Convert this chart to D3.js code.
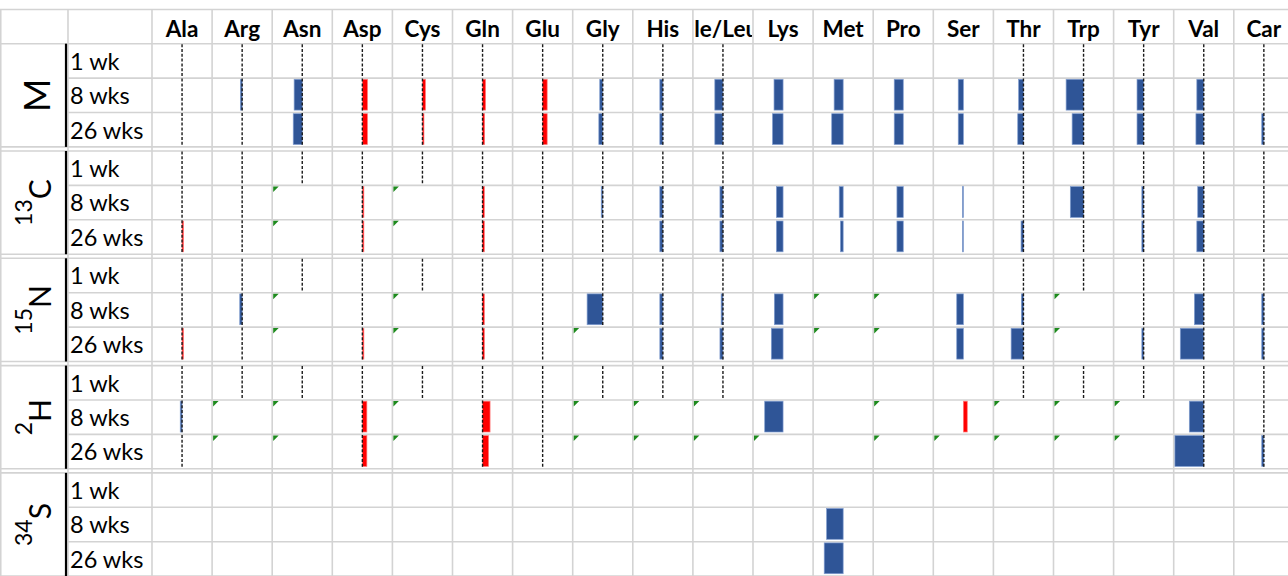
<!DOCTYPE html>
<html>
<head>
<meta charset="utf-8">
<script src="https://cdn.jsdelivr.net/npm/d3@7"></script>
<style>
  html, body { margin: 0; padding: 0; background: #ffffff; }
  svg { display: block; }
</style>
</head>
<body>
<svg id="chart" width="1288" height="576"></svg>
<script>
// Column headers (amino acids)
const aminoAcids = ["Ala", "Arg", "Asn", "Asp", "Cys", "Gln", "Glu", "Gly", "His", "Ile/Leu",
                    "Lys", "Met", "Pro", "Ser", "Thr", "Trp", "Tyr", "Val", "Car"];
// Row labels inside each block
const timePoints = ["1 wk", "8 wks", "26 wks"];
// Block labels: isotope letter and mass number
const isotopeLetters = ["M", "C", "N", "H", "S"];
const isotopeMasses = ["", "13", "15", "2", "34"];
// Columns whose data bars show the dashed midpoint axis
const axisColumns = ["Ala", "Arg", "Asn", "Asp", "Cys", "Gln", "Glu", "Gly", "His", "Ile/Leu",
                     "Thr", "Trp", "Tyr", "Val", "Car"];

// Relative change per cell (positive = blue bar, negative = red bar),
// "nd" = text entry (not determined), null = empty cell.
const ND = "nd";
const valuesM = [
  [0, 0, 0, 0, 0, 0, 0, 0, 0, 0, 0, 0, 0, 0, 0, 0, 0, 0, 0],
  [0, 0.06, 0.27, -0.17, -0.10, -0.10, -0.15, 0.10, 0.10, 0.27, 0.30, 0.30, 0.30, 0.17, 0.16, 0.58, 0.22, 0.23, 0],
  [0, 0, 0.30, -0.17, -0.05, -0.07, -0.15, 0.13, 0.10, 0.27, 0.35, 0.38, 0.30, 0.17, 0.19, 0.38, 0.22, 0.26, 0.07]
];
const values13C = [
  [0, 0, 0, 0, 0, 0, 0, 0, 0, 0, 0, 0, 0, 0, 0, 0, 0, 0, 0],
  [0, 0, ND, -0.05, ND, -0.06, 0, 0.05, 0.10, 0.10, 0.22, 0.13, 0.21, 0.03, 0, 0.44, 0.06, 0.20, 0],
  [-0.05, 0, ND, -0.05, ND, -0.06, 0, 0, 0.10, 0.10, 0.22, 0.09, 0.21, 0.03, 0.08, 0, 0.06, 0.23, 0]
];
const values15N = [
  [0, 0, 0, 0, 0, 0, 0, 0, 0, 0, 0, 0, 0, 0, 0, 0, 0, 0, 0],
  [0, 0.08, ND, 0, ND, -0.06, 0, 0.52, 0.10, 0.06, 0.29, ND, ND, 0.22, 0.07, ND, 0, 0.31, 0.07],
  [-0.05, 0, ND, -0.05, ND, -0.06, 0, ND, 0.10, 0.10, 0.39, ND, ND, 0.22, 0.41, ND, 0.06, 0.78, 0.07]
];
const values2H = [
  [0, 0, 0, 0, 0, 0, 0, 0, 0, 0, 0, 0, 0, 0, 0, 0, 0, 0, 0],
  [0.06, ND, ND, -0.15, ND, -0.25, 0, ND, ND, ND, 0.61, 0, ND, -0.13, ND, ND, ND, 0.48, 0],
  [0, ND, ND, -0.15, ND, -0.20, 0, ND, ND, ND, ND, 0, ND, ND, ND, ND, ND, 0.96, 0.07]
];
const values34S = [
  [null, null, null, null, null, null, null, null, null, null, null, null, null, null, null, null, null, null, null],
  [null, null, null, null, null, null, null, null, null, null, null, 0.55, null, null, null, null, null, null, null],
  [null, null, null, null, null, null, null, null, null, null, null, 0.63, null, null, null, null, null, null, null]
];
const blockValues = [valuesM, values13C, values15N, values2H, values34S];

// ---- layout ----
const W = 1288, H = 576;
const tableTop = 9.5, headerBottom = 43.7;
const labelColRight = 68, timeColRight = 152;
const colWidth = 60.1, blockGap = 4.1, blockStep = 107.3;
const gridColor = "#d3d3d3";
const blue = "#2f5597", red = "#ff0000", green = "#1d8a1d";
const font = "Lato, 'Open Sans', sans-serif";

const svg = d3.select("#chart");

const x = d3.scaleBand()
  .domain(aminoAcids)
  .range([timeColRight, timeColRight + colWidth * aminoAcids.length]);

const blockY = d3.scaleBand()
  .domain(d3.range(isotopeLetters.length))
  .range([headerBottom, headerBottom + blockStep * isotopeLetters.length - blockGap])
  .paddingInner(blockGap / blockStep)
  .paddingOuter(0);

const rowY = d3.scaleBand()
  .domain(timePoints)
  .range([0, blockY.bandwidth()]);

// bar length scale: value -> offset from the cell midpoint (positive values extend left)
const half = colWidth / 2;
const barX = d3.scaleLinear().domain([-1, 1]).range([half, -half]);

// ---- grid ----
const grid = svg.append("g").attr("stroke", gridColor).attr("stroke-width", 1.6).attr("fill", "none");

// horizontal: top border and header bottom
[tableTop, headerBottom].forEach(y => {
  grid.append("line").attr("x1", 0).attr("x2", W).attr("y1", y).attr("y2", y);
});
// block lines
blockY.domain().forEach(b => {
  const top = blockY(b), bottom = top + blockY.bandwidth();
  if (b > 0) grid.append("line").attr("x1", 0).attr("x2", W).attr("y1", top).attr("y2", top);
  grid.append("line").attr("x1", 0).attr("x2", W).attr("y1", bottom).attr("y2", bottom);
  timePoints.slice(1).forEach(t => {
    const y = top + rowY(t);
    grid.append("line").attr("x1", labelColRight).attr("x2", W).attr("y1", y).attr("y2", y);
  });
});
// vertical lines
const vx = [0.75, labelColRight].concat(aminoAcids.map(a => x(a))).concat([x.range()[1]]);
vx.forEach(v => {
  grid.append("line").attr("x1", v).attr("x2", v).attr("y1", tableTop).attr("y2", H);
});

// ---- header ----
const header = svg.append("g");
aminoAcids.forEach((a, i) => {
  const cid = "hclip" + i;
  svg.append("clipPath").attr("id", cid)
    .append("rect")
    .attr("x", x(a) + 1).attr("y", tableTop).attr("width", x.bandwidth() - 2).attr("height", headerBottom - tableTop);
  header.append("text")
    .attr("clip-path", `url(#${cid})`)
    .attr("x", x(a) + x.bandwidth() / 2)
    .attr("y", 36.5)
    .attr("text-anchor", "middle")
    .attr("font-family", font)
    .attr("font-weight", "bold")
    .attr("font-size", 22.5)
    .attr("fill", "#000")
    .text(a);
});

// ---- blocks ----
blockY.domain().forEach(b => {
  const top = blockY(b), bottom = top + blockY.bandwidth();
  const g = svg.append("g");

  // black separator between block label and time labels
  g.append("line")
    .attr("x1", 66).attr("x2", 66).attr("y1", top).attr("y2", bottom)
    .attr("stroke", "#000").attr("stroke-width", 2.2);

  // block label, rotated
  const cy = top + blockY.bandwidth() / 2;
  const lbl = g.append("text")
    .attr("transform", `translate(${b === 0 ? 50 : 50.5},${cy}) rotate(-90)`)
    .attr("text-anchor", "middle")
    .attr("font-family", font)
    .attr("fill", "#000");
  if (isotopeMasses[b]) {
    lbl.append("tspan").attr("font-size", 23).attr("dy", -18.5).text(isotopeMasses[b]);
    lbl.append("tspan").attr("font-size", 30).attr("dy", 18.5).text(isotopeLetters[b]);
  } else {
    lbl.append("tspan").attr("font-size", 36).text(isotopeLetters[b]);
  }

  // time labels
  timePoints.forEach(t => {
    g.append("text")
      .attr("x", 70)
      .attr("y", top + rowY(t) + 26)
      .attr("font-family", font)
      .attr("font-size", 23.5)
      .attr("fill", "#000")
      .text(t);
  });

  // cells
  blockValues[b].forEach((row, r) => {
    const rt = top + rowY(timePoints[r]);
    const rh = rowY.bandwidth();
    row.forEach((v, c) => {
      const a = aminoAcids[c];
      const left = x(a), mid = left + x.bandwidth() / 2;
      if (v === null) return;
      if (v === ND) {
        g.append("path")
          .attr("d", d3.line()([[left + 1, rt + 1], [left + 6.5, rt + 1], [left + 1, rt + 6.5]]) + "Z")
          .attr("fill", green);
        return;
      }
      if (v !== 0) {
        const x0 = mid + barX(0), x1 = mid + barX(v);
        g.append("rect")
          .attr("x", Math.min(x0, x1))
          .attr("y", rt + 1.2)
          .attr("width", Math.abs(x1 - x0))
          .attr("height", rh - 3.6)
          .attr("fill", v > 0 ? blue : red)
          .attr("stroke", v > 0 ? "#7f9ccf" : "#ff7a7a")
          .attr("stroke-width", 0.7);
      }
      if (axisColumns.includes(a)) {
        g.append("line")
          .attr("x1", mid).attr("x2", mid)
          .attr("y1", rt + 0.5).attr("y2", rt + rh - 0.5)
          .attr("stroke", "#1a1a1a")
          .attr("stroke-width", 1.4)
          .attr("stroke-dasharray", "3,1.8");
      }
    });
  });
});
</script>
</body>
</html>
